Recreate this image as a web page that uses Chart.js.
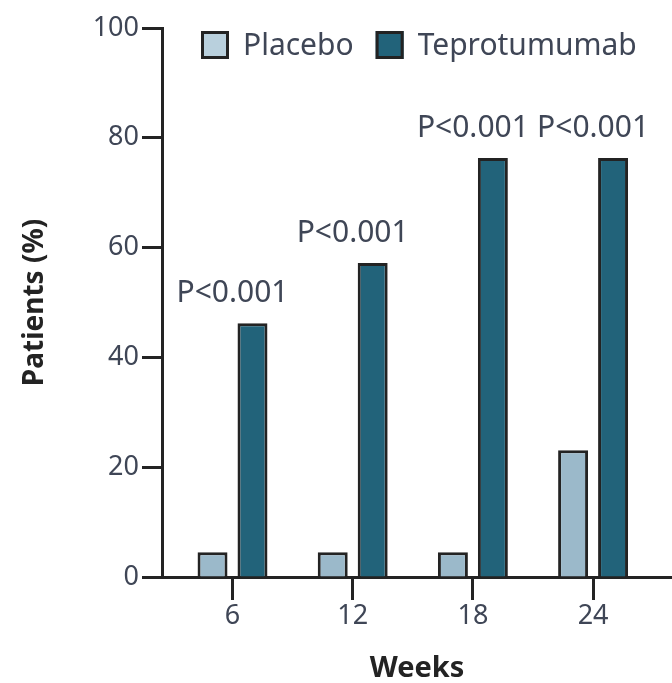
<!DOCTYPE html>
<html>
<head>
<meta charset="utf-8">
<script src="https://cdn.jsdelivr.net/npm/chart.js@4.4.1/dist/chart.umd.min.js"></script>
<style>
  html, body { margin: 0; padding: 0; background: #fff; }
</style>
</head>
<body>
<canvas id="weeksChart" width="672" height="683"></canvas>
<script>
// Chart values
const weeks = [6, 12, 18, 24];
const placebo = [4.5, 4.5, 4.5, 23.1];
const teprotumumab = [46.2, 57.2, 76.3, 76.3];
const pLabels = ['P<0.001', 'P<0.001', 'P<0.001', 'P<0.001'];
const yTicks = [0, 20, 40, 60, 80, 100];

const FONT = "'Noto Sans', 'DejaVu Sans', sans-serif";
const TEXT = '#3f4656';
const INK = '#232323';

// P-value text above each teprotumumab bar
const pValuePlugin = {
    id: 'pValues',
    afterDatasetsDraw(chart) {
        const ctx = chart.ctx;
        const meta = chart.getDatasetMeta(1);
        ctx.save();
        ctx.font = '30px ' + FONT;
        ctx.fillStyle = TEXT;
        ctx.textAlign = 'center';
        ctx.textBaseline = 'middle';
        meta.data.forEach((bar, i) => {
            const x = chart.scales.x.getPixelForValue(weeks[i]);
            ctx.fillText(pLabels[i], x, bar.y - 30);
        });
        ctx.restore();
    }
};

// Legend drawn inside the plot area, top left
const insideLegend = {
    id: 'insideLegend',
    afterDraw(chart) {
        const ctx = chart.ctx;
        let x = 201;
        const y = 45, box = 28;
        ctx.save();
        ctx.font = '30px ' + FONT;
        ctx.textBaseline = 'middle';
        chart.data.datasets.forEach(ds => {
            ctx.fillStyle = ds.legendColor;
            ctx.fillRect(x, y - box / 2, box, box);
            ctx.lineWidth = 3;
            ctx.strokeStyle = INK;
            ctx.strokeRect(x + 1.5, y - box / 2 + 1.5, box - 3, box - 3);
            ctx.fillStyle = TEXT;
            ctx.fillText(ds.label, x + box + 14, y + 1);
            x += box + 14 + ctx.measureText(ds.label).width + 22;
        });
        ctx.restore();
    }
};

const ctx = document.getElementById('weeksChart').getContext('2d');
const weeksChart = new Chart(ctx, {
    type: 'bar',
    data: {
        datasets: [{
            label: 'Placebo',
            data: weeks.map((w, i) => ({ x: w, y: placebo[i] })),
            backgroundColor: '#9bb9ca',
            legendColor: '#b9d0dd',
            borderColor: INK,
            borderWidth: 3
        }, {
            label: 'Teprotumumab',
            data: weeks.map((w, i) => ({ x: w, y: teprotumumab[i] })),
            backgroundColor: '#22637a',
            legendColor: '#22637a',
            borderColor: INK,
            borderWidth: 3
        }]
    },
    options: {
        responsive: false,
        animation: false,
        categoryPercentage: 0.665,
        barPercentage: 0.75,
        layout: { padding: { top: 28, left: 0, right: 0, bottom: 0 } },
        plugins: {
            legend: { display: false },
            tooltip: { enabled: false }
        },
        scales: {
            x: {
                type: 'linear',
                min: 2.48,
                max: 27.94,
                offset: false,
                z: 1,
                afterFit(scale) { scale.height = 106; },
                afterBuildTicks(scale) { scale.ticks = weeks.map(v => ({ value: v })); },
                border: { color: INK, width: 3 },
                grid: { offset: false, drawOnChartArea: false, tickLength: 23, tickColor: INK, tickWidth: 3 },
                ticks: { font: { family: FONT, size: 27 }, color: TEXT, padding: 0 },
                title: {
                    display: true,
                    text: 'Weeks',
                    font: { family: FONT, size: 29, weight: 'bold', lineHeight: 1 },
                    color: INK,
                    padding: { top: 0, bottom: 0 }
                }
            },
            y: {
                min: 0,
                max: 100,
                afterFit(scale) { scale.width = 162; },
                afterBuildTicks(scale) { scale.ticks = yTicks.map(v => ({ value: v })); },
                border: { color: INK, width: 3 },
                grid: { drawOnChartArea: false, tickLength: 20, tickColor: INK, tickWidth: 3 },
                ticks: { font: { family: FONT, size: 27 }, color: TEXT, padding: 3 },
                title: {
                    display: true,
                    text: 'Patients (%)',
                    font: { family: FONT, size: 28, weight: 'bold' },
                    color: INK,
                    padding: { top: 18, bottom: 0 }
                }
            }
        }
    },
    plugins: [pValuePlugin, insideLegend]
});
</script>
</body>
</html>
